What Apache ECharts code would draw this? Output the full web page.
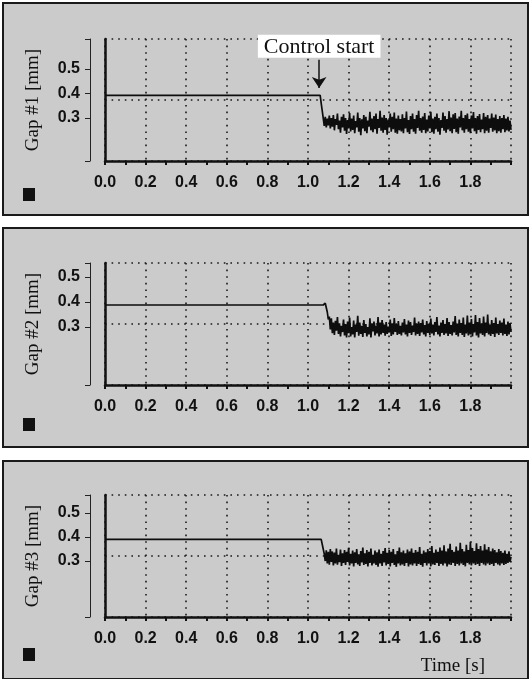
<!DOCTYPE html>
<html>
<head>
<meta charset="utf-8">
<script src="https://cdn.jsdelivr.net/npm/echarts@6/dist/echarts.min.js"></script>
<style>
  html, body { margin: 0; padding: 0; background: #fff; }
  #chart { width: 530px; height: 679px; }
</style>
</head>
<body>
<div id="chart"></div>
<script>
// time axis
const timeTicks = [0.0, 0.2, 0.4, 0.6, 0.8, 1.0, 1.2, 1.4, 1.6, 1.8];
const gapTicks = [0.3, 0.4, 0.5];
const sampleStep = 0.005;

// gap #1: flat before control start, then noisy
const gap1Step = [[0.0, 0.392], [1.06, 0.392], [1.065, 0.36]];
const gap1NoiseStart = 1.07;
const gap1Noise = [
  0.330, 0.300, 0.268, 0.305, 0.262, 0.298, 0.270, 0.310, 0.258, 0.300,
  0.265, 0.312, 0.250, 0.296, 0.272, 0.318, 0.255, 0.290, 0.240, 0.305,
  0.262, 0.315, 0.248, 0.300, 0.235, 0.292, 0.258, 0.320, 0.245, 0.298,
  0.252, 0.310, 0.238, 0.288, 0.262, 0.322, 0.244, 0.300, 0.230, 0.295,
  0.258, 0.312, 0.246, 0.305, 0.238, 0.290, 0.265, 0.325, 0.250, 0.298,
  0.242, 0.308, 0.255, 0.318, 0.236, 0.296, 0.260, 0.330, 0.248, 0.302,
  0.240, 0.312, 0.252, 0.300, 0.232, 0.294, 0.262, 0.318, 0.244, 0.305,
  0.255, 0.322, 0.240, 0.298, 0.236, 0.310, 0.250, 0.296, 0.245, 0.315,
  0.238, 0.300, 0.258, 0.326, 0.242, 0.292, 0.235, 0.308, 0.255, 0.318,
  0.244, 0.296, 0.236, 0.312, 0.260, 0.330, 0.248, 0.300, 0.240, 0.306,
  0.252, 0.320, 0.238, 0.294, 0.245, 0.310, 0.258, 0.325, 0.242, 0.298,
  0.236, 0.305, 0.255, 0.318, 0.244, 0.300, 0.232, 0.292, 0.260, 0.322,
  0.248, 0.308, 0.240, 0.296, 0.254, 0.328, 0.246, 0.302, 0.238, 0.315,
  0.256, 0.320, 0.242, 0.298, 0.236, 0.306, 0.262, 0.330, 0.250, 0.300,
  0.240, 0.312, 0.255, 0.318, 0.244, 0.296, 0.238, 0.310, 0.258, 0.324,
  0.246, 0.300, 0.236, 0.308, 0.252, 0.316, 0.242, 0.294, 0.255, 0.320,
  0.238, 0.305, 0.248, 0.312, 0.240, 0.298, 0.260, 0.318, 0.244, 0.302,
  0.250, 0.314, 0.238, 0.296, 0.246, 0.308, 0.240, 0.300, 0.255, 0.312,
  0.242, 0.298, 0.250, 0.305, 0.245, 0.290, 0.252
];

// gap #2
const gap2Step = [[0.0, 0.388], [1.075, 0.388], [1.085, 0.395], [1.095, 0.36]];
const gap2NoiseStart = 1.10;
const gap2Noise = [
  0.330, 0.342, 0.290, 0.335, 0.275, 0.318, 0.268, 0.325, 0.285, 0.340,
  0.272, 0.315, 0.262, 0.305, 0.280, 0.330, 0.266, 0.312, 0.258, 0.322,
  0.275, 0.338, 0.262, 0.300, 0.270, 0.326, 0.258, 0.310, 0.280, 0.345,
  0.265, 0.318, 0.272, 0.305, 0.260, 0.328, 0.276, 0.312, 0.262, 0.300,
  0.270, 0.335, 0.258, 0.315, 0.282, 0.322, 0.266, 0.306, 0.274, 0.340,
  0.262, 0.318, 0.270, 0.328, 0.276, 0.310, 0.265, 0.320, 0.272, 0.302,
  0.278, 0.330, 0.264, 0.315, 0.270, 0.336, 0.280, 0.312, 0.268, 0.324,
  0.272, 0.305, 0.266, 0.318, 0.278, 0.332, 0.270, 0.310, 0.262, 0.326,
  0.276, 0.320, 0.268, 0.306, 0.280, 0.338, 0.266, 0.314, 0.272, 0.322,
  0.264, 0.316, 0.278, 0.330, 0.270, 0.308, 0.262, 0.324, 0.276, 0.312,
  0.268, 0.334, 0.274, 0.310, 0.266, 0.320, 0.280, 0.340, 0.270, 0.306,
  0.262, 0.318, 0.276, 0.328, 0.268, 0.312, 0.274, 0.336, 0.264, 0.320,
  0.272, 0.308, 0.266, 0.322, 0.278, 0.344, 0.268, 0.314, 0.262, 0.330,
  0.276, 0.316, 0.268, 0.338, 0.260, 0.310, 0.274, 0.346, 0.266, 0.318,
  0.270, 0.332, 0.262, 0.312, 0.278, 0.348, 0.266, 0.320, 0.258, 0.336,
  0.274, 0.314, 0.268, 0.342, 0.262, 0.318, 0.276, 0.350, 0.270, 0.310,
  0.264, 0.328, 0.272, 0.316, 0.260, 0.338, 0.274, 0.312, 0.268, 0.326,
  0.276, 0.318, 0.266, 0.334, 0.272, 0.310, 0.264, 0.322, 0.270, 0.316,
  0.280
];

// gap #3
const gap3Step = [[0.0, 0.390], [1.065, 0.390], [1.075, 0.35]];
const gap3NoiseStart = 1.08;
const gap3Noise = [
  0.330, 0.300, 0.345, 0.290, 0.338, 0.285, 0.350, 0.296, 0.340, 0.282,
  0.335, 0.290, 0.352, 0.285, 0.326, 0.295, 0.348, 0.280, 0.332, 0.292,
  0.346, 0.284, 0.338, 0.296, 0.355, 0.282, 0.330, 0.290, 0.344, 0.278,
  0.336, 0.292, 0.350, 0.286, 0.328, 0.280, 0.342, 0.294, 0.356, 0.284,
  0.332, 0.288, 0.346, 0.278, 0.338, 0.292, 0.352, 0.282, 0.326, 0.290,
  0.344, 0.284, 0.336, 0.276, 0.348, 0.290, 0.330, 0.280, 0.342, 0.294,
  0.354, 0.282, 0.334, 0.288, 0.346, 0.278, 0.338, 0.292, 0.350, 0.284,
  0.328, 0.276, 0.342, 0.290, 0.356, 0.282, 0.336, 0.286, 0.344, 0.280,
  0.332, 0.292, 0.348, 0.278, 0.340, 0.286, 0.352, 0.282, 0.334, 0.290,
  0.346, 0.280, 0.338, 0.288, 0.358, 0.284, 0.330, 0.276, 0.344, 0.292,
  0.336, 0.282, 0.350, 0.290, 0.342, 0.278, 0.362, 0.286, 0.334, 0.284,
  0.348, 0.292, 0.338, 0.280, 0.356, 0.288, 0.344, 0.282, 0.366, 0.290,
  0.340, 0.278, 0.352, 0.286, 0.372, 0.284, 0.346, 0.292, 0.338, 0.280,
  0.360, 0.288, 0.344, 0.282, 0.376, 0.290, 0.350, 0.284, 0.340, 0.278,
  0.368, 0.292, 0.346, 0.286, 0.380, 0.282, 0.354, 0.290, 0.342, 0.284,
  0.374, 0.288, 0.350, 0.280, 0.362, 0.292, 0.344, 0.286, 0.370, 0.282,
  0.348, 0.290, 0.358, 0.284, 0.340, 0.288, 0.352, 0.280, 0.346, 0.292,
  0.336, 0.286, 0.350, 0.282, 0.342, 0.290, 0.334, 0.284, 0.344, 0.288,
  0.330, 0.292, 0.340, 0.296, 0.318
];

const panels = [
  { name: "Gap #1 [mm]", step: gap1Step, start: gap1NoiseStart, noise: gap1Noise,
    top: 39, yMin: 0.125, yMax: 0.622, box: [3, 3, 525, 212], legendTop: 183 },
  { name: "Gap #2 [mm]", step: gap2Step, start: gap2NoiseStart, noise: gap2Noise,
    top: 263, yMin: 0.068, yMax: 0.556, box: [3, 228, 525, 219], legendTop: 413 },
  { name: "Gap #3 [mm]", step: gap3Step, start: gap3NoiseStart, noise: gap3Noise,
    top: 495, yMin: 0.067, yMax: 0.575, box: [3, 461, 525, 218], legendTop: 643 },
];

const serif = "Liberation Serif";
const sans = "Liberation Sans";
const dotted = { color: "#1a1a1a", width: 1.6, type: [1.6, 5] };

function buildData(p) {
  const pts = p.step.map((d) => d.slice());
  p.noise.forEach((v, i) => {
    pts.push([+(p.start + i * sampleStep).toFixed(3), v]);
  });
  return pts;
}

const grid = [], xAxis = [], yAxis = [], series = [], legend = [], graphic = [];

panels.forEach((p, i) => {
  graphic.push({
    type: "rect", z: -10,
    shape: { x: p.box[0], y: p.box[1], width: p.box[2], height: p.box[3] },
    style: { fill: "#cbcbcb", stroke: "#1a1a1a", lineWidth: 2 },
  });

  grid.push({ left: 105, right: 19, top: p.top, height: 122 });

  xAxis.push({
    type: "value", gridIndex: i, min: 0, max: 2, interval: 0.2,
    axisLine: { lineStyle: { color: "#111", width: 2.5 } },
    axisTick: { show: true, length: 4, lineStyle: { color: "#111", width: 2 } },
    minorTick: { show: true, splitNumber: 2, length: 4, lineStyle: { color: "#111", width: 2 } },
    splitLine: { show: true, lineStyle: dotted },
    axisLabel: {
      margin: 14, color: "#111", fontFamily: sans, fontWeight: "bold", fontSize: 16,
      formatter: (v) => (timeTicks.some((t) => Math.abs(t - v) < 1e-6) ? v.toFixed(1) : ""),
    },
    name: i === 2 ? "Time [s]" : "",
    nameLocation: "end", nameGap: 0,
    nameTextStyle: {
      fontFamily: serif, fontSize: 19, color: "#111",
      align: "right", verticalAlign: "top", padding: [40, 26, 0, 0],
    },
  });

  // plotting axis (no labels)
  yAxis.push({
    type: "value", gridIndex: i, min: p.yMin, max: p.yMax, position: "left",
    axisLine: { show: true, lineStyle: { color: "#111", width: 2.5 } },
    axisTick: { show: false }, axisLabel: { show: false }, splitLine: { show: false },
  });
  // bracket axis with the labels
  yAxis.push({
    type: "value", gridIndex: i, min: p.yMin, max: p.yMax, position: "left", offset: 15,
    axisLine: { show: true, lineStyle: { color: "#222", width: 1 } },
    axisTick: { show: true, length: 5, customValues: [p.yMin].concat(gapTicks, [p.yMax]),
      lineStyle: { color: "#222", width: 1 } },
    axisLabel: {
      customValues: gapTicks, margin: 10, color: "#111",
      fontFamily: sans, fontWeight: "bold", fontSize: 16,
      formatter: (v) => v.toFixed(1),
    },
    splitLine: { show: false },
    name: p.name, nameLocation: "middle", nameGap: 47,
    nameTextStyle: { fontFamily: serif, fontSize: 19, color: "#111" },
  });
  // horizontal dotted grid: top and middle of the plot
  yAxis.push({
    type: "value", gridIndex: i, min: 0, max: 2, interval: 1, position: "right",
    axisLine: { show: false }, axisTick: { show: false }, axisLabel: { show: false },
    splitLine: { show: true, lineStyle: dotted },
  });

  const s = {
    name: p.name, type: "line", xAxisIndex: i, yAxisIndex: i * 3,
    data: buildData(p), showSymbol: false, symbol: "none",
    lineStyle: { color: "#0d0d0d", width: 1.7 }, itemStyle: { color: "#111" },
    z: 5,
  };
  if (i === 0) {
    s.markLine = {
      silent: true, symbol: ["none", "arrow"], symbolSize: 11,
      lineStyle: { color: "#111", width: 1.5, type: "solid" },
      label: {
        show: true, position: "start", distance: 2, formatter: "Control start",
        fontFamily: serif, fontSize: 22, color: "#111",
        backgroundColor: "#ffffff", padding: [1, 6, 0, 6],
      },
      data: [[{ coord: [1.055, 0.537] }, { coord: [1.055, 0.422] }]],
    };
  }
  series.push(s);

  legend.push({
    data: [p.name], left: 18, top: p.legendTop, icon: "rect",
    itemWidth: 12, itemHeight: 13, formatter: () => "",
    selectedMode: false, textStyle: { fontSize: 1 },
  });
});

const chart = echarts.init(document.getElementById("chart"));
chart.setOption({
  animation: false,
  backgroundColor: "#ffffff",
  graphic: graphic,
  grid: grid,
  xAxis: xAxis,
  yAxis: yAxis,
  legend: legend,
  series: series,
});
</script>
</body>
</html>
